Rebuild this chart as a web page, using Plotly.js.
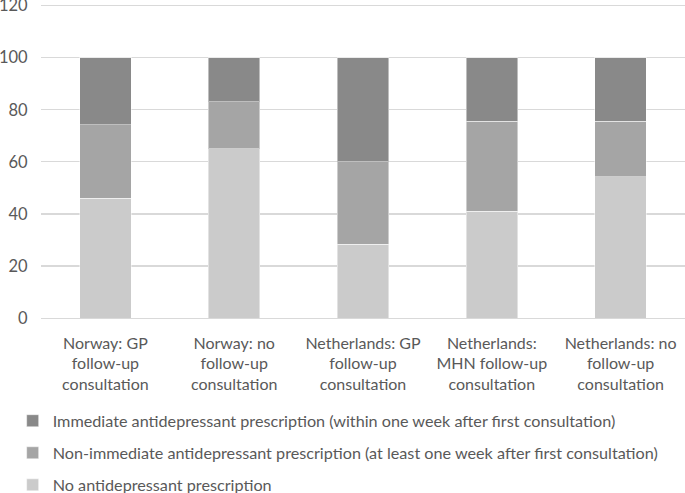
<!DOCTYPE html>
<html>
<head>
<meta charset="utf-8">
<script src="https://cdn.plot.ly/plotly-3.0.1.min.js"></script>
<style>html,body{margin:0;padding:0;background:#fff;}#chart{width:685px;height:493px;}</style>
</head>
<body>
<div id="chart"></div>
<script>
const categories = [
  "Norway: GP<br>follow-up<br>consultation",
  "Norway: no<br>follow-up<br>consultation",
  "Netherlands: GP<br>follow-up<br>consultation",
  "Netherlands:<br>MHN follow-up<br>consultation",
  "Netherlands: no<br>follow-up<br>consultation"
];
const noPrescription = [46, 65, 28.3, 41, 54.2];
const nonImmediate = [28.2, 18.1, 31.7, 34.6, 21.4];
const immediate = [25.8, 16.9, 40.0, 24.4, 24.4];
const seriesNames = [
  "No antidepressant prescription",
  "Non-immediate antidepressant prescription (at least one week after first consultation)",
  "Immediate antidepressant prescription (within one week after first consultation)"
];
const yTicks = [0, 20, 40, 60, 80, 100, 120];

const FONT = 'Lato, "Open Sans", sans-serif';
const colors = ["#cbcbcb", "#a5a5a5", "#898989"];
const seriesValues = [noPrescription, nonImmediate, immediate];

const traces = seriesValues.map((vals, i) => ({
  type: "bar",
  x: categories,
  y: vals,
  name: seriesNames[i],
  legendgroup: "g" + (3 - i),
  legendrank: 3 - i,
  marker: { color: colors[i], line: { color: "rgba(255,255,255,0.45)", width: 1 } },
  hoverinfo: "skip"
}));

const layout = {
  width: 685,
  height: 493,
  barmode: "stack",
  bargap: 0.6,
  margin: { l: 40.5, r: 0, t: 3.4, b: 175, autoexpand: false },
  paper_bgcolor: "#fff",
  plot_bgcolor: "#fff",
  font: { family: FONT, size: 16, color: "#595959" },
  xaxis: {
    tickfont: { family: FONT, size: 16, color: "#595959" },
    showgrid: false,
    showline: true,
    linecolor: "#d9d9d9",
    linewidth: 1.3,
    ticks: "outside",
    ticklen: 10,
    tickcolor: "rgba(0,0,0,0)",
    automargin: false,
    fixedrange: true
  },
  yaxis: {
    range: [0, 121],
    tickvals: yTicks,
    ticktext: yTicks.map(String),
    tickfont: { family: FONT, size: 16.5, color: "#595959" },
    ticklabeloverflow: "allow",
    showgrid: true,
    gridcolor: "#d9d9d9",
    gridwidth: 1.3,
    zeroline: false,
    showline: false,
    ticks: "outside",
    ticklen: 9,
    tickcolor: "rgba(0,0,0,0)",
    automargin: false,
    fixedrange: true
  },
  showlegend: true,
  legend: {
    orientation: "v",
    x: -0.044,
    xanchor: "left",
    y: -0.272,
    yanchor: "top",
    traceorder: "grouped",
    tracegroupgap: 8,
    itemwidth: 30,
    font: { family: FONT, size: 16.2, color: "#595959" },
    bgcolor: "rgba(0,0,0,0)"
  }
};

Plotly.newPlot("chart", traces, layout, { displayModeBar: false, staticPlot: true });
</script>
</body>
</html>
